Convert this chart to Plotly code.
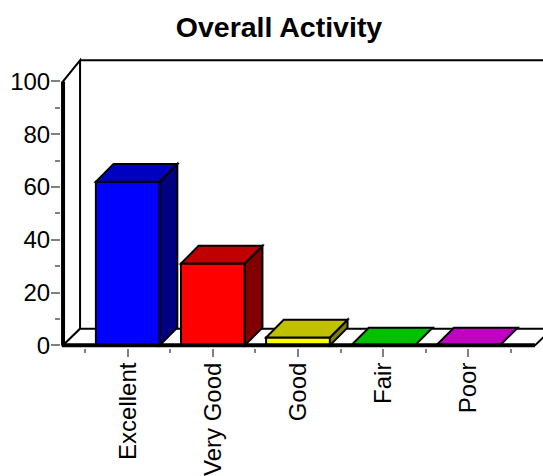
import plotly.graph_objects as go

# Survey results
categories = ["Excellent", "Very Good", "Good", "Fair", "Poor"]
values = [62, 31, 3, 0, 0]

# Face colours: front, top (lit), side (shaded)
front_colors = ["#0000FF", "#FF0000", "#FFFF00", "#00FF00", "#FF00FF"]
top_colors = ["#0000C0", "#C00000", "#C0C000", "#00C000", "#C000C0"]
side_colors = ["#000080", "#800000", "#808000", "#008000", "#800080"]

y_major = [0, 20, 40, 60, 80, 100]
y_minor = [10, 30, 50, 70, 90]

# Pseudo-3D geometry (axis units)
BAR_W = 0.75
BAR_DX, BAR_DY = 0.207, 6.7      # bar depth offset
X_LEFT, X_RIGHT = -0.761, 4.785  # front plane extent
WALL_DX = 0.2
FLOOR_DY = 6.3
TOP_DY = 8.0
Y_TOP = 100
X_RANGE = [-0.785, 4.879]
Y_RANGE = [-1, 110]

xs = list(range(len(categories)))

fig = go.Figure()
fig.add_trace(go.Bar(
    x=xs, y=values, width=BAR_W,
    marker=dict(color=front_colors, line=dict(color="black", width=2)),
    hoverinfo="x+y",
))


def poly(pts):
    return "M " + " L ".join(f"{px},{py}" for px, py in pts) + " Z"


shapes = []
# left wall
shapes.append(dict(type="path", layer="below",
                   path=poly([(X_LEFT, 0), (X_LEFT + WALL_DX, FLOOR_DY),
                              (X_LEFT + WALL_DX, Y_TOP + TOP_DY), (X_LEFT, Y_TOP)]),
                   fillcolor="white", line=dict(color="black", width=2)))
# floor
shapes.append(dict(type="path", layer="below",
                   path=poly([(X_LEFT, 0), (X_RIGHT, 0),
                              (X_RIGHT + WALL_DX, FLOOR_DY), (X_LEFT + WALL_DX, FLOOR_DY)]),
                   fillcolor="white", line=dict(color="black", width=2)))
# back wall top edge
shapes.append(dict(type="line", layer="below",
                   x0=X_LEFT + WALL_DX, y0=Y_TOP + TOP_DY, x1=X_RANGE[1] + 1, y1=Y_TOP + TOP_DY,
                   line=dict(color="black", width=2)))

# bar tops and sides
for i, v in enumerate(values):
    x0, x1 = i - BAR_W / 2, i + BAR_W / 2
    if v > 0:
        shapes.append(dict(type="path", layer="above",
                           path=poly([(x1, 0), (x1 + BAR_DX, BAR_DY),
                                      (x1 + BAR_DX, v + BAR_DY), (x1, v)]),
                           fillcolor=side_colors[i], line=dict(color="black", width=2)))
    shapes.append(dict(type="path", layer="above",
                       path=poly([(x0, v), (x1, v), (x1 + BAR_DX, v + BAR_DY), (x0 + BAR_DX, v + BAR_DY)]),
                       fillcolor=top_colors[i], line=dict(color="black", width=2)))

# heavy front axis edges
shapes.append(dict(type="line", layer="above", x0=X_LEFT, y0=0, x1=X_LEFT, y1=Y_TOP,
                   line=dict(color="black", width=4)))
shapes.append(dict(type="line", layer="above", x0=X_LEFT, y0=0, x1=X_RIGHT, y1=0,
                   line=dict(color="black", width=4)))

fig.update_layout(
    width=543, height=476,
    margin=dict(l=61, r=0, t=55, b=128, pad=0),
    paper_bgcolor="white", plot_bgcolor="white",
    showlegend=False,
    shapes=shapes,
    font=dict(family="Liberation Sans, Arial, sans-serif", size=24, color="black"),
    title=dict(text="<b>Overall Activity</b>", font=dict(size=28.5, color="black"),
               xref="container", x=279 / 543, xanchor="center",
               yref="container", y=1 - 27 / 476, yanchor="middle"),
    xaxis=dict(range=X_RANGE, tickmode="array", tickvals=xs, ticktext=categories,
               tickangle=-90, ticks="outside", ticklen=8, tickwidth=2, tickcolor="#808080",
               ticklabelstandoff=-4,
               showgrid=False, zeroline=False, showline=False,
               minor=dict(tickmode="array", tickvals=[i - 0.5 for i in range(len(categories) + 1)],
                          ticks="outside", ticklen=4, tickwidth=2, tickcolor="#808080",
                          showgrid=False)),
    yaxis=dict(range=Y_RANGE, tickmode="array", tickvals=y_major,
               ticks="outside", ticklen=9, tickwidth=2, tickcolor="#808080",
               ticklabelstandoff=-4,
               showgrid=False, zeroline=False, showline=False,
               minor=dict(tickmode="array", tickvals=y_minor,
                          ticks="outside", ticklen=5, tickwidth=2, tickcolor="#808080",
                          showgrid=False)),
)

fig.write_html("out.html")
